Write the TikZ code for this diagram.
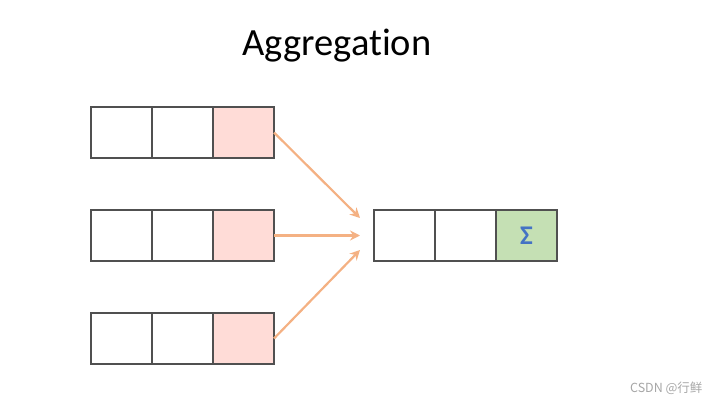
\documentclass[tikz,border=0pt]{standalone}
\usepackage{fontspec}
\setmainfont{Carlito}[Ligatures=NoCommon]
\newfontfamily\cjk{Noto Sans CJK SC}
\usetikzlibrary{arrows.meta}
\definecolor{cellline}{RGB}{80,80,80}
\definecolor{pinkfill}{RGB}{255,220,215}
\definecolor{greenfill}{RGB}{197,224,180}
\definecolor{arrowc}{RGB}{244,177,131}
\definecolor{sigmac}{RGB}{68,114,196}
\tikzset{
  cell/.style={draw=cellline, line width=1.2pt, fill=white, minimum width=61pt, minimum height=51pt, inner sep=0pt, outer sep=0pt, anchor=north west},
  pinkcell/.style={cell, fill=pinkfill},
  greencell/.style={cell, fill=greenfill},
  flow/.style={draw=arrowc, line width=2.2pt, -{Stealth[length=10pt,width=10pt]}}
}
\begin{document}
\begin{tikzpicture}[x=1pt,y=-1pt]
\useasboundingbox (0,0) rectangle (711,401);
\node[font=\fontsize{38.5}{42}\selectfont] (title) at (337,46) {Aggregation};
% left rows
\foreach \r/\y in {1/107,2/210,3/313}{
  \node[cell] (a\r) at (91,\y) {};
  \node[cell] (b\r) at (152,\y) {};
  \node[pinkcell] (c\r) at (213,\y) {};
}
% right row
\node[cell] (d1) at (374,210) {};
\node[cell] (d2) at (435,210) {};
\node[greencell, font=\bfseries\fontsize{27}{29}\selectfont, text=sigmac] (d3) at (496,210) {Σ};
\coordinate (t1) at (360,218);
\coordinate (t2) at (360,235.5);
\coordinate (t3) at (360,250);
\draw[flow] (c1.east) -- (t1);
\draw[flow] (c2.east) -- (t2);
\draw[flow] (c3.east) -- (t3);
\node[anchor=east, text=gray!70, font=\cjk\fontsize{12.5}{14}\selectfont] (wm) at (706,388) {CSDN @行鲜};
\end{tikzpicture}
\end{document}
